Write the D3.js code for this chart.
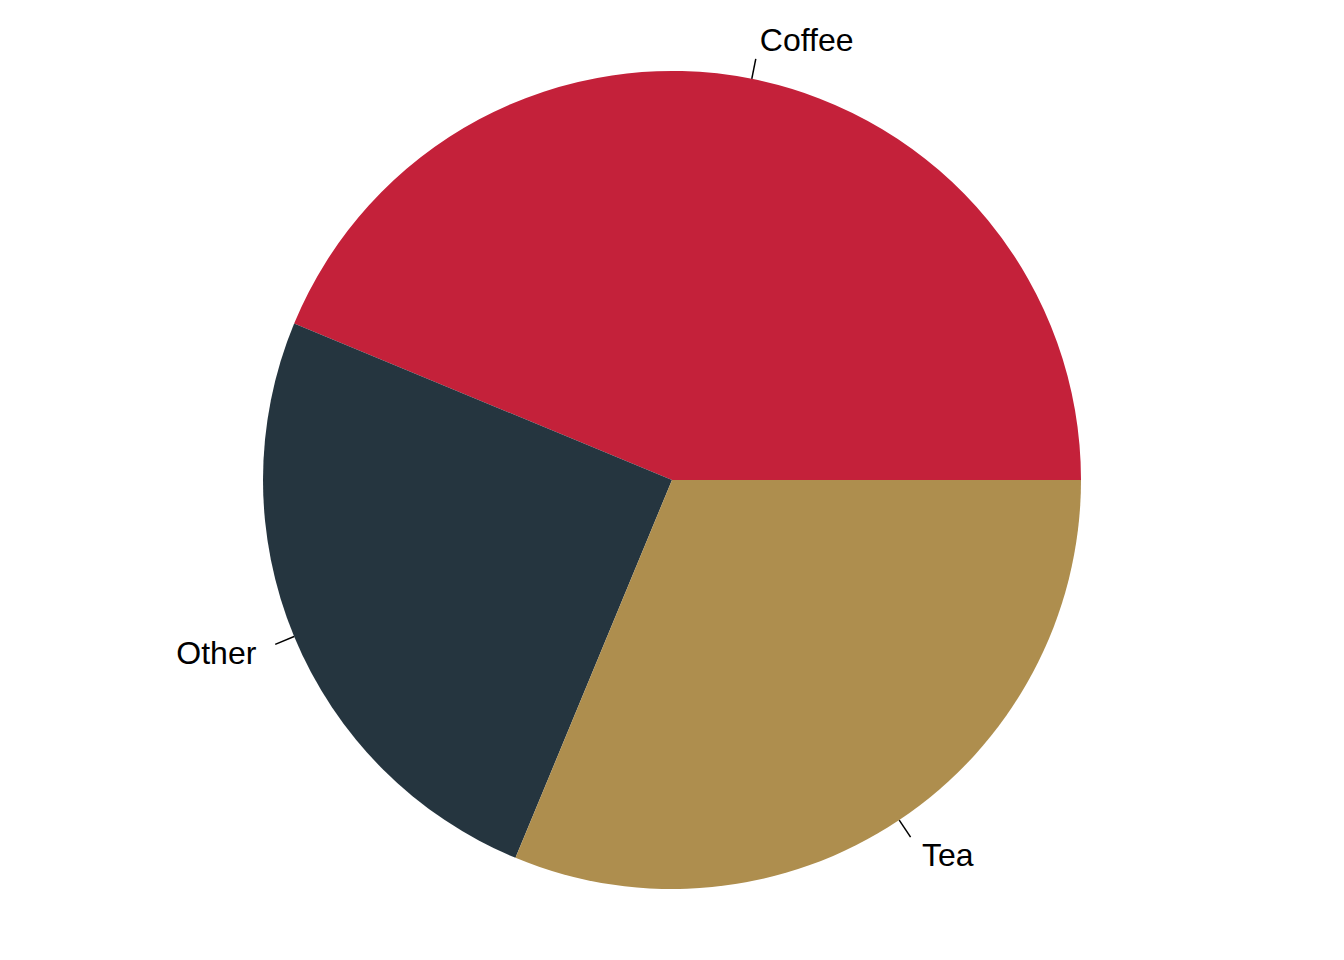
<!DOCTYPE html>
<html>
<head>
<meta charset="utf-8">
<script src="https://cdn.jsdelivr.net/npm/d3@7"></script>
<style>
  body { margin: 0; background: #fff; }
  text { font-family: "Liberation Sans", Arial, sans-serif; }
</style>
</head>
<body>
<svg class="svg_pie" width="1344" height="960"></svg>
<script>
// slices, counter-clockwise from 3 o'clock
var labels = ["Coffee", "Other", "Tea"];
var values = [35, 20, 25];
var colours = ["#c4213a", "#25353f", "#ae8e4e"];

var svg = d3.select(".svg_pie"),
    cx = 672, cy = 480,
    radius = 409;

var g = svg.append("g").attr("transform", "translate(" + cx + "," + cy + ")");

var data = labels.map(function(l, i) { return {label: l, value: values[i], colour: colours[i]}; });

// start at 3 o'clock and go counter-clockwise
var pie = d3.pie()
    .sort(null)
    .value(function(d) { return d.value; })
    .startAngle(Math.PI / 2)
    .endAngle(Math.PI / 2 - 2 * Math.PI);

var arc = d3.arc().innerRadius(0).outerRadius(radius);

var arcs = pie(data);

g.selectAll("path.slice")
    .data(arcs)
  .enter().append("path")
    .attr("class", "slice")
    .attr("d", arc)
    .attr("fill", function(d) { return d.data.colour; });

function pos(d, k) {
  var a = (d.startAngle + d.endAngle) / 2;
  return [k * radius * Math.sin(a), -k * radius * Math.cos(a)];
}

// tick lines
g.selectAll("line.tick")
    .data(arcs)
  .enter().append("line")
    .attr("class", "tick")
    .attr("x1", function(d) { return pos(d, 1)[0]; })
    .attr("y1", function(d) { return pos(d, 1)[1]; })
    .attr("x2", function(d) { return pos(d, 1.05)[0]; })
    .attr("y2", function(d) { return pos(d, 1.05)[1]; })
    .style("stroke", "#000")
    .style("stroke-width", 1.5);

// labels
g.selectAll("text.lab")
    .data(arcs)
  .enter().append("text")
    .attr("class", "lab")
    .attr("x", function(d) { return pos(d, 1.1)[0]; })
    .attr("y", function(d) { return pos(d, 1.1)[1]; })
    .attr("dy", "0.37em")
    .attr("text-anchor", function(d) { return pos(d, 1)[0] > 0 ? "start" : "end"; })
    .style("font-size", "32px")
    .style("fill", "#000")
    .text(function(d) { return d.data.label; });
</script>
</body>
</html>
